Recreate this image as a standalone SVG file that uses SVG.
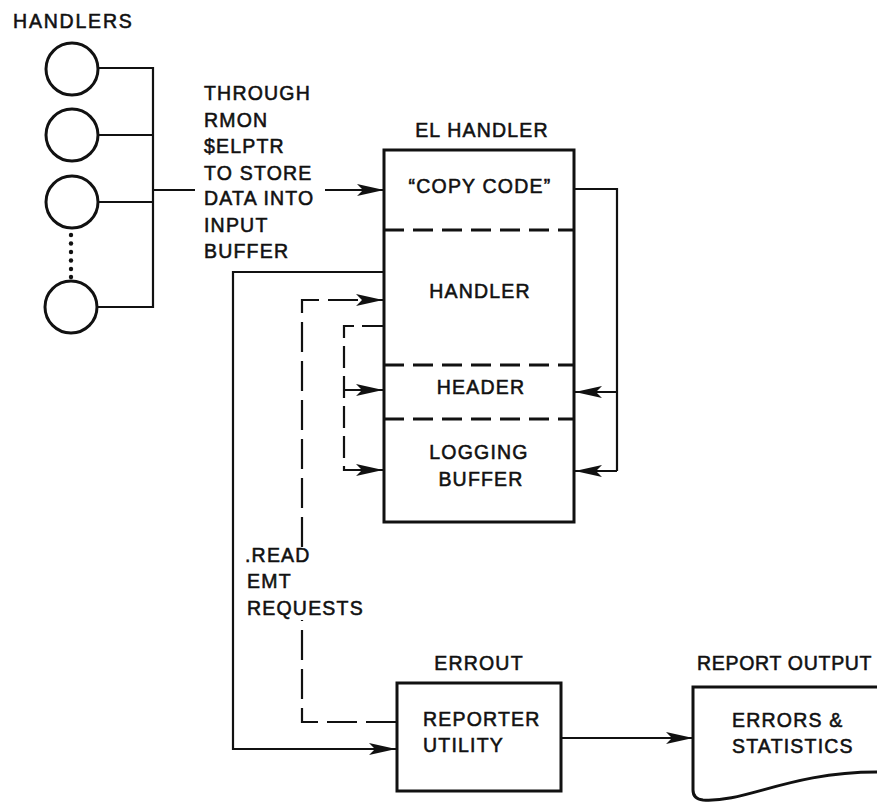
<svg xmlns="http://www.w3.org/2000/svg" width="877" height="803" viewBox="0 0 877 803">
<style>
text{font-family:"Liberation Sans",Arial,sans-serif;font-size:19.5px;letter-spacing:1.2px;fill:#111;stroke:#111;stroke-width:0.55px}
.mid{text-anchor:middle}
.box{fill:none;stroke:#111;stroke-width:3}
.div{fill:none;stroke:#111;stroke-width:3;stroke-dasharray:20 9}
.ln{fill:none;stroke:#111;stroke-width:2.2}
.dash{fill:none;stroke:#111;stroke-width:2.2;stroke-dasharray:30 9}
.arr{marker-end:url(#ah)}
.dot{fill:#111}
</style>
<defs>
<marker id="ah" markerUnits="userSpaceOnUse" markerWidth="30" markerHeight="14" refX="27" refY="7" orient="auto">
<path d="M0,1 L27,7 L0,13 L6,7 Z" fill="#111"/>
</marker>
</defs>
<rect width="877" height="803" fill="#fff"/>

<g id="handlers">
<text x="13" y="28" style="letter-spacing:1.8px">HANDLERS</text>
<circle cx="72" cy="69" r="26" class="box"/>
<circle cx="72" cy="135" r="26" class="box"/>
<circle cx="72" cy="202" r="26" class="box"/>
<circle cx="71" cy="307" r="26" class="box"/>
<g class="dot">
<circle cx="71" cy="235" r="2.2"/><circle cx="71" cy="243.5" r="2.2"/><circle cx="71" cy="252" r="2.2"/><circle cx="71" cy="260.5" r="2.2"/><circle cx="71" cy="269" r="2.2"/><circle cx="71" cy="277" r="2.2"/>
</g>
</g>

<g id="el-handler">
<text x="482" y="137" class="mid">EL HANDLER</text>
<rect x="384" y="150" width="190" height="372" class="box"/>
<line x1="384" y1="230" x2="574" y2="230" class="div"/>
<line x1="384" y1="365" x2="574" y2="365" class="div"/>
<line x1="384" y1="419" x2="574" y2="419" class="div"/>
<text x="480" y="193" class="mid">“COPY CODE”</text>
<text x="480" y="298" class="mid">HANDLER</text>
<text x="481" y="394" class="mid">HEADER</text>
<text x="479" y="459" class="mid">LOGGING</text>
<text x="481" y="486" class="mid">BUFFER</text>
</g>

<g id="errout">
<text x="479" y="670" class="mid">ERROUT</text>
<rect x="397" y="683" width="164" height="108" class="box"/>
<text x="423" y="726">REPORTER</text>
<text x="423" y="752">UTILITY</text>
</g>

<g id="report-output">
<text x="697" y="670" style="letter-spacing:0.7px">REPORT OUTPUT</text>
<path d="M877,687 H693 V790 Q693,799 703,800 C745,803 790,772 877,772" class="box"/>
<text x="732" y="727">ERRORS &amp;</text>
<text x="732" y="753">STATISTICS</text>
</g>

<g id="labels">
<text x="204" y="100">THROUGH</text>
<text x="204" y="126.5">RMON</text>
<text x="204" y="153">$ELPTR</text>
<text x="204" y="179.5">TO STORE</text>
<text x="204" y="205">DATA INTO</text>
<text x="204" y="231.5">INPUT</text>
<text x="204" y="258">BUFFER</text>
<text x="245" y="562">.READ</text>
<text x="247" y="588">EMT</text>
<text x="247" y="615">REQUESTS</text>
</g>

<g id="connectors">
<path d="M98,68 H153 M98,135 H153 M98,202 H153 M97,307 H153 M153,67 V308 M153,190 H195" class="ln"/>
<line x1="325" y1="190" x2="384" y2="190" class="ln arr"/>
<path d="M574,189 H617 V471" class="ln"/>
<line x1="617" y1="392" x2="575" y2="392" class="ln arr"/>
<line x1="617" y1="471" x2="575" y2="471" class="ln arr"/>
<path d="M384,272 H233 V749 H396" class="ln arr"/>
<path d="M302,547 V300 H383" class="dash arr"/>
<path d="M396,722 H302 V620" class="dash"/>
<path d="M384,326 H344 V470 H383" class="dash arr" style="stroke-dasharray:22 8"/>
<line x1="344" y1="390" x2="383" y2="390" class="ln arr"/>
<line x1="561" y1="738" x2="693" y2="738" class="ln arr"/>
</g>
</svg>
